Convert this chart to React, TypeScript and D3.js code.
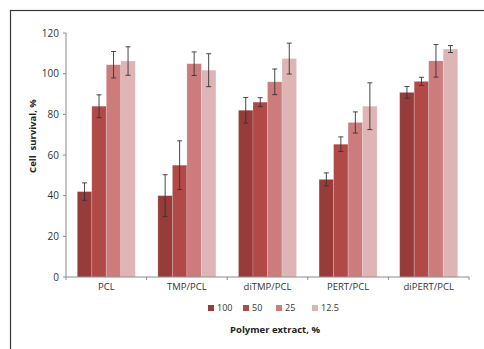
import { useMemo } from "react";
import * as d3 from "d3";

// polymer groups on the x axis
const groups = ["PCL", "TMP/PCL", "diTMP/PCL", "PERT/PCL", "diPERT/PCL"];
// extract concentrations (legend)
const concentrations = ["100", "50", "25", "12.5"];
const colors = ["#973b3b", "#b24949", "#cc7c7c", "#dfb4b4"];

// mean survival per concentration, in group order
const values100 = [42, 40, 82, 48, 90.8];
const values50 = [84, 55, 86, 65.3, 96.2];
const values25 = [104.4, 104.9, 96, 76, 106.3];
const values125 = [106.2, 101.7, 107.4, 84, 112.1];

// error (+/-)
const err100 = [4.3, 10.3, 6.3, 3.2, 2.9];
const err50 = [5.6, 12, 2.2, 3.6, 2];
const err25 = [6.5, 5.8, 6.3, 5.2, 8];
const err125 = [7, 8.1, 7.6, 11.5, 1.7];

const yTicks = [0, 20, 40, 60, 80, 100, 120];

const W = 484;
const H = 349;
const MARGIN = { top: 33, right: 15, bottom: 72, left: 66 };
const FONT = "'Open Sans', 'Liberation Sans', sans-serif";

export default function App() {
  const series = [values100, values50, values25, values125];
  const errors = [err100, err50, err25, err125];

  const x = useMemo(
    () =>
      d3
        .scaleBand()
        .domain(groups)
        .range([MARGIN.left, W - MARGIN.right])
        .paddingInner(0.28)
        .paddingOuter(0.14),
    []
  );
  const xi = useMemo(
    () =>
      d3.scaleBand().domain(concentrations).range([0, x.bandwidth()]).padding(0),
    [x]
  );
  const y = useMemo(
    () =>
      d3
        .scaleLinear()
        .domain([0, 120])
        .range([H - MARGIN.bottom, MARGIN.top]),
    []
  );

  const step = x.step();
  const bounds = d3.range(groups.length + 1).map(
    (i) => MARGIN.left + i * ((W - MARGIN.right - MARGIN.left) / groups.length)
  );
  const y0 = y(0);
  const legendX = [208, 243, 276, 312];

  return (
    <svg
      width={W}
      height={H}
      style={{ position: "absolute", left: 0, top: 0, background: "#fff" }}
      fontFamily={FONT}
    >
      {/* frame */}
      <rect x={10.5} y={10.5} width={W} height={H} fill="none" stroke="#3a3a3a" strokeWidth={1.2} />

      {/* bars */}
      {groups.map((g, gi) =>
        series.map((s, si) => {
          const bx = (x(g) || 0) + (xi(concentrations[si]) || 0);
          const bw = xi.bandwidth();
          return (
            <rect
              key={`${g}-${si}`}
              x={bx}
              y={y(s[gi])}
              width={bw}
              height={y0 - y(s[gi])}
              fill={colors[si]}
              stroke="#ffffff"
              strokeOpacity={0.25}
              strokeWidth={0.8}
            />
          );
        })
      )}

      {/* error bars */}
      {groups.map((g, gi) =>
        series.map((s, si) => {
          const cx = (x(g) || 0) + (xi(concentrations[si]) || 0) + xi.bandwidth() / 2;
          const hi = y(s[gi] + errors[si][gi]);
          const lo = y(s[gi] - errors[si][gi]);
          return (
            <g key={`e-${g}-${si}`} stroke="#333" strokeWidth={0.9}>
              <line x1={cx} x2={cx} y1={hi} y2={lo} />
              <line x1={cx - 2.5} x2={cx + 2.5} y1={hi} y2={hi} />
              <line x1={cx - 2.5} x2={cx + 2.5} y1={lo} y2={lo} />
            </g>
          );
        })
      )}

      {/* y axis */}
      <line x1={MARGIN.left} x2={MARGIN.left} y1={y(120)} y2={y0} stroke="#8a8a8a" />
      {yTicks.map((t) => (
        <g key={t}>
          <line x1={MARGIN.left - 3} x2={MARGIN.left} y1={y(t)} y2={y(t)} stroke="#8a8a8a" />
          <text
            x={MARGIN.left - 7}
            y={y(t)}
            dy="0.35em"
            textAnchor="end"
            fontSize={10}
            fill="#333"
          >
            {t}
          </text>
        </g>
      ))}

      {/* x axis */}
      <line x1={MARGIN.left} x2={W - MARGIN.right} y1={y0} y2={y0} stroke="#8a8a8a" />
      {bounds.map((b, i) => (
        <line key={i} x1={b} x2={b} y1={y0} y2={y0 + 3} stroke="#8a8a8a" />
      ))}
      {groups.map((g) => (
        <text
          key={g}
          x={(x(g) || 0) + x.bandwidth() / 2}
          y={y0 + 13}
          textAnchor="middle"
          fontSize={9.5}
          fill="#333"
        >
          {g}
        </text>
      ))}

      {/* y title */}
      <text
        transform={`translate(33,136) rotate(-90)`}
        textAnchor="middle"
        dy="0.35em"
        fontSize={9.5}
        fontWeight="bold"
        fill="#222"
        style={{ whiteSpace: "pre" }}
      >
        {"Cell  survival, %"}
      </text>

      {/* legend */}
      {concentrations.map((c, i) => (
        <g key={c}>
          <rect x={legendX[i]} y={305} width={6} height={6} fill={colors[i]} />
          <text x={legendX[i] + 9} y={308} dy="0.35em" fontSize={9} fill="#333">
            {c}
          </text>
        </g>
      ))}

      {/* x title */}
      <text x={275} y={330} textAnchor="middle" dy="0.35em" fontSize={9.5} fontWeight="bold" fill="#222">
        Polymer extract, %
      </text>
      {step > 0 ? null : null}
    </svg>
  );
}
